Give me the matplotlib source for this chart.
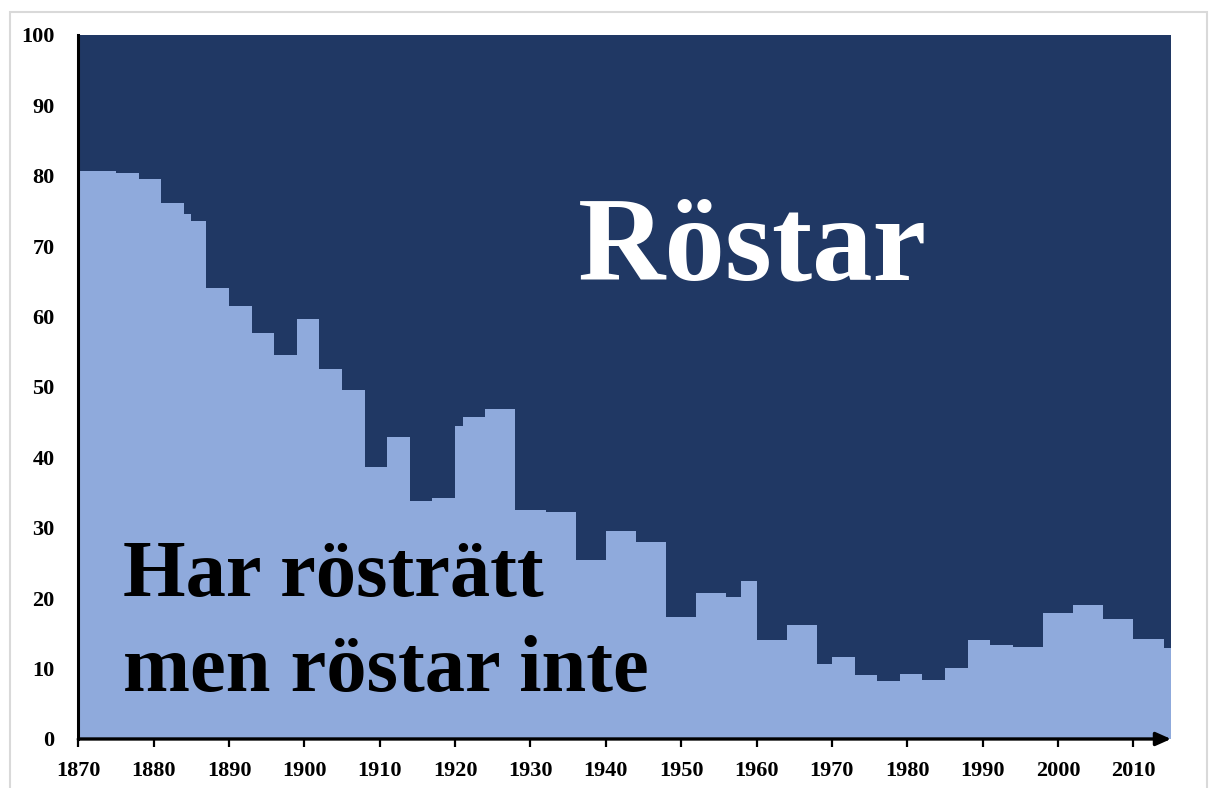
import matplotlib.pyplot as plt
from matplotlib.patches import Rectangle

# start year of each step and the share (%) that has the right to vote but does not vote
years = [1870, 1875, 1878, 1881, 1884, 1885, 1887, 1890, 1893, 1896, 1899, 1902,
         1905, 1908, 1911, 1914, 1917, 1920, 1921, 1924, 1928, 1932, 1936, 1940,
         1944, 1948, 1952, 1956, 1958, 1960, 1964, 1968, 1970, 1973, 1976, 1979,
         1982, 1985, 1988, 1991, 1994, 1998, 2002, 2006, 2010, 2014]
ej_rostar = [80.7, 80.4, 79.6, 76.2, 74.6, 73.6, 64.1, 61.5, 57.6, 54.6, 59.6, 52.6,
             49.6, 38.7, 42.9, 33.8, 34.2, 44.5, 45.8, 46.9, 32.5, 32.3, 25.4, 29.6,
             28.0, 17.3, 20.8, 20.1, 22.5, 14.1, 16.2, 10.7, 11.6, 9.1, 8.2, 9.2,
             8.4, 10.1, 14.1, 13.3, 13.1, 17.9, 19.0, 17.0, 14.25, 12.9]
slut_ar = 2015
xticks = list(range(1870, 2011, 10))
yticks = list(range(0, 101, 10))

dark = '#203864'
light = '#8faadc'

plt.rcParams['font.family'] = ['Liberation Serif', 'DejaVu Serif']

fig = plt.figure(figsize=(12.1, 7.88), dpi=100)
ax = fig.add_axes([0.0647, 0.0622, 0.9031, 0.8934])
ax.set_facecolor(dark)

x = years + [slut_ar]
y = ej_rostar + [ej_rostar[-1]]
ax.fill_between(x, y, 0, step='post', color=light, lw=0)

ax.set_xlim(1870, slut_ar)
ax.set_ylim(0, 100)
ax.set_xticks(xticks)
ax.set_yticks(yticks)
ax.tick_params(axis='x', direction='out', length=5.5, width=1.6, pad=10,
               labelsize=16, color='black')
ax.tick_params(axis='y', length=0, pad=17, labelsize=16)
for lab in ax.get_xticklabels() + ax.get_yticklabels():
    lab.set_fontweight('bold')

for s in ['top', 'right', 'bottom']:
    ax.spines[s].set_visible(False)
ax.spines['left'].set_linewidth(2.2)
ax.spines['left'].set_color('black')
ax.annotate('', xy=(1.0, 0), xytext=(0, 0), xycoords='axes fraction',
            arrowprops=dict(arrowstyle='-|>,head_length=0.9,head_width=0.4',
                            color='black', lw=2.4, shrinkA=0, shrinkB=0),
            annotation_clip=False)

ax.text(1936.3, 65.2, 'Röstar', color='white', fontsize=87, fontweight='bold',
        va='baseline', ha='left')
ax.text(1875.9, 20.3, 'Har rösträtt', color='black', fontsize=58, fontweight='bold',
        va='baseline', ha='left')
ax.text(1875.9, 6.86, 'men röstar inte', color='black', fontsize=58, fontweight='bold',
        va='baseline', ha='left')

fig.patches.append(Rectangle((10 / 1210, -0.02), 1197 / 1210, 1.02 - 12 / 788,
                             transform=fig.transFigure, fill=False,
                             edgecolor='#d9d9d9', lw=1.5))

fig.savefig('out.png', dpi=100)
